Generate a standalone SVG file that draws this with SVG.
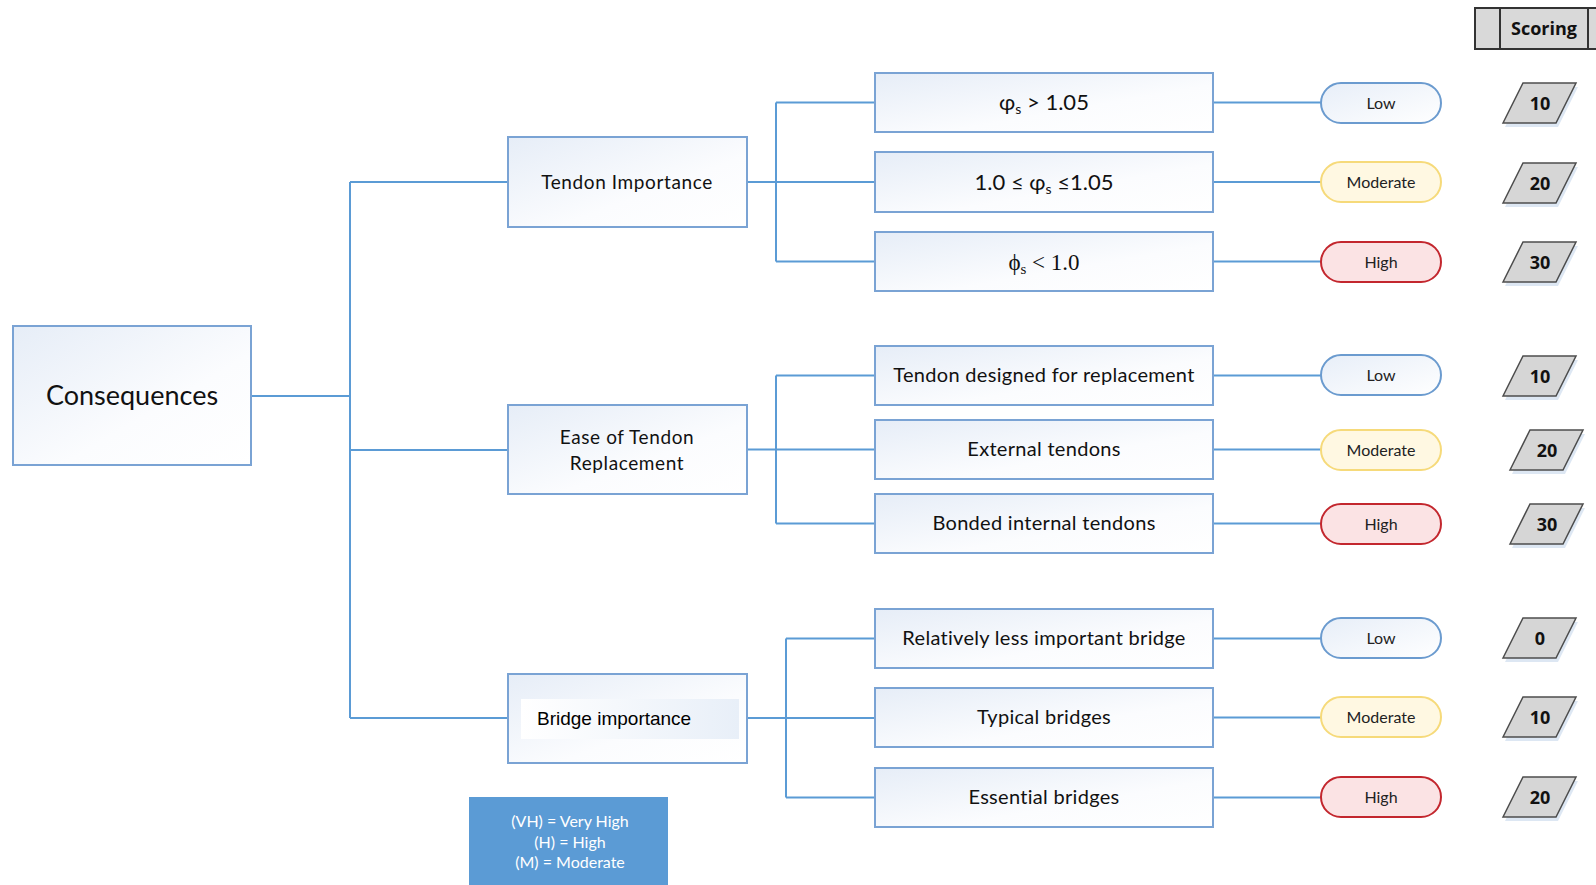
<svg xmlns="http://www.w3.org/2000/svg" width="1596" height="885" viewBox="0 0 1596 885">
<defs>
<linearGradient id="gBox" x1="0" y1="0" x2="1" y2="1">
<stop offset="0" stop-color="#e6edf7"/>
<stop offset="0.6" stop-color="#fbfcfe"/>
<stop offset="1" stop-color="#ffffff"/>
</linearGradient>
<linearGradient id="gInner" x1="0" y1="0" x2="1" y2="0">
<stop offset="0" stop-color="#ffffff"/>
<stop offset="1" stop-color="#e8eff8"/>
</linearGradient>
<linearGradient id="gLow" x1="0" y1="0" x2="1" y2="1">
<stop offset="0" stop-color="#e7eef8"/>
<stop offset="1" stop-color="#ffffff"/>
</linearGradient>
<style>
.box{fill:url(#gBox);stroke:#7aa3d4;stroke-width:2}
.conn{fill:none;stroke:#5b9bd5;stroke-width:2}
.txt{font-family:Lato,"Open Sans","DejaVu Sans",sans-serif;fill:#111;text-anchor:middle}
.crit{font-size:20px;letter-spacing:0.3px}
.pill{stroke-width:2}
.low{fill:url(#gLow);stroke:#6b9bcf}
.mod{fill:#fff8e2;stroke:#f6da7a}
.high{fill:#fbe3e4;stroke:#c3272e}
.ptxt{font-size:16px;fill:#222}
.par{fill:#d6d6d6;stroke:#4d4d4d;stroke-width:1.5}
.shd{fill:#dde7f3}
.num{font-family:"Open Sans",Lato,sans-serif;font-weight:bold;font-size:18px;fill:#111;text-anchor:middle}
</style>
</defs>
<rect width="1596" height="885" fill="#ffffff"/>

<g id="connectors">
<path class="conn" d="M251 396H350M350 182V718M350 182H508M350 450H508M350 718H508"/>
<path class="conn" d="M747 182H875M776 102.5V261.5M776 102.5H875M776 261.5H875"/>
<path class="conn" d="M747 449.5H875M776 375.5V523.5M776 375.5H875M776 523.5H875"/>
<path class="conn" d="M747 718H875M786 638.5V797.5M786 638.5H875M786 797.5H875"/>
<path class="conn" d="M1213 102.5H1321M1213 182H1321M1213 261.5H1321M1213 375.5H1321M1213 449.5H1321M1213 523.5H1321M1213 638.5H1321M1213 717.5H1321M1213 797.5H1321"/>
</g>

<g id="scoring-header">
<rect x="1475" y="8" width="130" height="41" fill="#d9d9d9" stroke="#333" stroke-width="2"/>
<line x1="1500" y1="8" x2="1500" y2="49" stroke="#333" stroke-width="2"/>
<line x1="1588" y1="8" x2="1588" y2="49" stroke="#333" stroke-width="2"/>
<text class="num" x="1544" y="35">Scoring</text>
</g>

<g id="consequences">
<rect class="box" x="13" y="326" width="238" height="139"/>
<text class="txt" x="132" y="405" font-size="27">Consequences</text>
</g>

<g id="tendon-importance">
<rect class="box" x="508" y="137" width="239" height="90"/>
<text class="txt" x="627" y="189" font-size="19" letter-spacing="0.6">Tendon Importance</text>
</g>

<g id="ease-replacement">
<rect class="box" x="508" y="405" width="239" height="89"/>
<text class="txt" x="627" y="444" font-size="19" letter-spacing="0.6">Ease of Tendon</text>
<text class="txt" x="627" y="470" font-size="19" letter-spacing="0.6">Replacement</text>
</g>

<g id="bridge-importance">
<rect class="box" x="508" y="674" width="239" height="89"/>
<rect x="521" y="699" width="218" height="40" fill="url(#gInner)"/>
<text x="537" y="725" font-family="'Liberation Sans',Arial,sans-serif" font-size="19" fill="#000">Bridge importance</text>
</g>

<g id="legend">
<rect x="469" y="797" width="199" height="95" fill="#5b9bd5"/>
<text class="txt" x="570" y="827" font-size="16" style="fill:#fff">(VH) = Very High</text>
<text class="txt" x="570" y="848" font-size="16" style="fill:#fff">(H) = High</text>
<text class="txt" x="570" y="868" font-size="16" style="fill:#fff">(M) = Moderate</text>
</g>

<g id="c1">
<rect class="box" x="875" y="73" width="338" height="59"/>
<text class="txt" x="1044" y="110" font-size="22">φ<tspan font-size="14" dy="4">s</tspan><tspan dy="-4"> &gt; 1.05</tspan></text>
</g>
<g id="c2">
<rect class="box" x="875" y="152" width="338" height="60"/>
<text class="txt" x="1044" y="190" font-size="22">1.0 ≤ φ<tspan font-size="14" dy="4">s</tspan><tspan dy="-4"> ≤1.05</tspan></text>
</g>
<g id="c3">
<rect class="box" x="875" y="232" width="338" height="59"/>
<text x="1044" y="270" font-family="'Liberation Serif','DejaVu Serif',serif" font-size="23" fill="#111" text-anchor="middle">ϕ<tspan font-size="15" dy="4">s</tspan><tspan dy="-4"> &lt; 1.0</tspan></text>
</g>
<g id="c4">
<rect class="box" x="875" y="346" width="338" height="59"/>
<text class="txt crit" x="1044" y="382">Tendon designed for replacement</text>
</g>
<g id="c5">
<rect class="box" x="875" y="420" width="338" height="59"/>
<text class="txt crit" x="1044" y="456">External tendons</text>
</g>
<g id="c6">
<rect class="box" x="875" y="494" width="338" height="59"/>
<text class="txt crit" x="1044" y="530">Bonded internal tendons</text>
</g>
<g id="c7">
<rect class="box" x="875" y="609" width="338" height="59"/>
<text class="txt crit" x="1044" y="645">Relatively less important bridge</text>
</g>
<g id="c8">
<rect class="box" x="875" y="688" width="338" height="59"/>
<text class="txt crit" x="1044" y="724">Typical bridges</text>
</g>
<g id="c9">
<rect class="box" x="875" y="768" width="338" height="59"/>
<text class="txt crit" x="1044" y="804">Essential bridges</text>
</g>

<g id="p1"><rect class="pill low" x="1321" y="83" width="120" height="40" rx="20"/><text class="txt ptxt" x="1381" y="108.5">Low</text></g>
<g id="p2"><rect class="pill mod" x="1321" y="162" width="120" height="40" rx="20"/><text class="txt ptxt" x="1381" y="187.5">Moderate</text></g>
<g id="p3"><rect class="pill high" x="1321" y="242" width="120" height="40" rx="20"/><text class="txt ptxt" x="1381" y="267.5">High</text></g>
<g id="p4"><rect class="pill low" x="1321" y="355" width="120" height="40" rx="20"/><text class="txt ptxt" x="1381" y="380.5">Low</text></g>
<g id="p5"><rect class="pill mod" x="1321" y="430" width="120" height="40" rx="20"/><text class="txt ptxt" x="1381" y="455.5">Moderate</text></g>
<g id="p6"><rect class="pill high" x="1321" y="504" width="120" height="40" rx="20"/><text class="txt ptxt" x="1381" y="529.5">High</text></g>
<g id="p7"><rect class="pill low" x="1321" y="618" width="120" height="40" rx="20"/><text class="txt ptxt" x="1381" y="643.5">Low</text></g>
<g id="p8"><rect class="pill mod" x="1321" y="697" width="120" height="40" rx="20"/><text class="txt ptxt" x="1381" y="722.5">Moderate</text></g>
<g id="p9"><rect class="pill high" x="1321" y="777" width="120" height="40" rx="20"/><text class="txt ptxt" x="1381" y="802.5">High</text></g>

<g id="s1"><polygon class="shd" points="1505,127 1525,87 1578,87 1558,127"/><polygon class="par" points="1503,123 1523,83 1576,83 1556,123"/><text class="num" x="1540" y="110">10</text></g>
<g id="s2"><polygon class="shd" points="1505,207 1525,167 1578,167 1558,207"/><polygon class="par" points="1503,203 1523,163 1576,163 1556,203"/><text class="num" x="1540" y="190">20</text></g>
<g id="s3"><polygon class="shd" points="1505,286 1525,246 1578,246 1558,286"/><polygon class="par" points="1503,282 1523,242 1576,242 1556,282"/><text class="num" x="1540" y="269">30</text></g>
<g id="s4"><polygon class="shd" points="1505,400 1525,360 1578,360 1558,400"/><polygon class="par" points="1503,396 1523,356 1576,356 1556,396"/><text class="num" x="1540" y="383">10</text></g>
<g id="s5"><polygon class="shd" points="1512,474 1532,434 1585,434 1565,474"/><polygon class="par" points="1510,470 1530,430 1583,430 1563,470"/><text class="num" x="1547" y="457">20</text></g>
<g id="s6"><polygon class="shd" points="1512,548 1532,508 1585,508 1565,548"/><polygon class="par" points="1510,544 1530,504 1583,504 1563,544"/><text class="num" x="1547" y="531">30</text></g>
<g id="s7"><polygon class="shd" points="1505,662 1525,622 1578,622 1558,662"/><polygon class="par" points="1503,658 1523,618 1576,618 1556,658"/><text class="num" x="1540" y="645">0</text></g>
<g id="s8"><polygon class="shd" points="1505,741 1525,701 1578,701 1558,741"/><polygon class="par" points="1503,737 1523,697 1576,697 1556,737"/><text class="num" x="1540" y="724">10</text></g>
<g id="s9"><polygon class="shd" points="1505,821 1525,781 1578,781 1558,821"/><polygon class="par" points="1503,817 1523,777 1576,777 1556,817"/><text class="num" x="1540" y="804">20</text></g>
</svg>
